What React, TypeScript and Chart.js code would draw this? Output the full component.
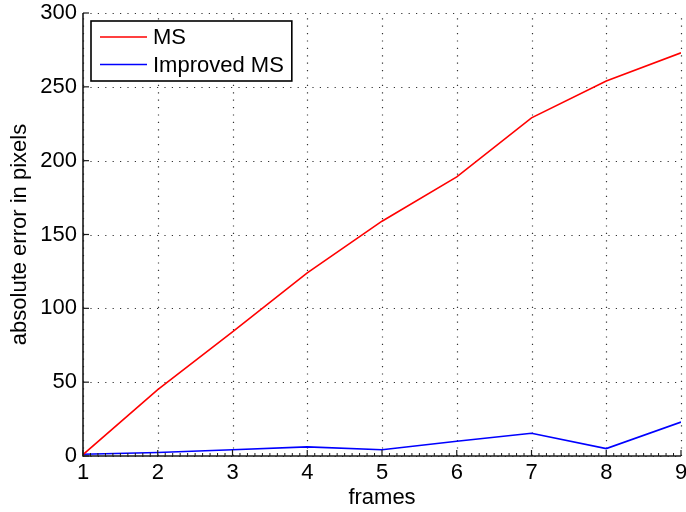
import React, { useEffect, useRef } from "react";
import { Chart, registerables } from "chart.js";

Chart.register(...registerables);

const frames = [1, 2, 3, 4, 5, 6, 7, 8, 9];
const msError = [1, 45, 84, 124, 159, 189, 229, 254, 273];
const improvedError = [1.2, 2.4, 4.2, 6.2, 4.2, 10, 15.4, 5, 23];
const xTicks = [1, 2, 3, 4, 5, 6, 7, 8, 9];
const yTicks = [0, 50, 100, 150, 200, 250, 300];
const seriesLabels = ["MS", "Improved MS"];
const seriesColors = ["#ff0000", "#0000ff"];
const xTitle = "frames";
const yTitle = "absolute error in pixels";

const FONT = "'Liberation Sans', Arial, Helvetica, sans-serif";

const matlabAxes = {
  id: "matlabAxes",
  beforeDatasetsDraw(chart: any) {
    const { ctx, chartArea: a, scales } = chart;
    const x = scales.x;
    const y = scales.y;
    ctx.save();
    ctx.strokeStyle = "#333";
    ctx.lineWidth = 1.2;
    ctx.setLineDash([1.2, 6.2]);
    for (const v of xTicks) {
      const px = Math.round(x.getPixelForValue(v)) + 0.5;
      ctx.beginPath();
      ctx.moveTo(px, a.bottom);
      ctx.lineTo(px, a.top);
      ctx.stroke();
    }
    for (const v of yTicks) {
      const py = Math.round(y.getPixelForValue(v)) + 0.5;
      ctx.beginPath();
      ctx.moveTo(a.left, py);
      ctx.lineTo(a.right, py);
      ctx.stroke();
    }
    ctx.restore();
  },
  afterDatasetsDraw(chart: any) {
    const { ctx, chartArea: a, scales } = chart;
    const x = scales.x;
    const y = scales.y;
    ctx.save();
    ctx.strokeStyle = "#1a1a1a";
    ctx.lineWidth = 1.6;
    ctx.beginPath();
    ctx.moveTo(a.left, a.top);
    ctx.lineTo(a.left, a.bottom);
    ctx.lineTo(a.right, a.bottom);
    ctx.stroke();
    ctx.lineWidth = 1.2;
    for (const v of xTicks) {
      const px = x.getPixelForValue(v);
      ctx.beginPath();
      ctx.moveTo(px, a.bottom);
      ctx.lineTo(px, a.bottom - 6);
      ctx.stroke();
    }
    for (const v of yTicks) {
      const py = y.getPixelForValue(v);
      ctx.beginPath();
      ctx.moveTo(a.left, py);
      ctx.lineTo(a.left + 6, py);
      ctx.stroke();
    }
    ctx.lineWidth = 1;
    for (let i = 0; i < xTicks.length - 1; i++) {
      for (let k = 1; k < 10; k++) {
        const v = xTicks[i] + (k * (xTicks[i + 1] - xTicks[i])) / 10;
        const px = x.getPixelForValue(v);
        ctx.beginPath();
        ctx.moveTo(px, a.bottom);
        ctx.lineTo(px, a.bottom - 3);
        ctx.stroke();
      }
    }
    ctx.restore();

    ctx.save();
    ctx.font = `22px ${FONT}`;
    const bx = a.left + 8;
    const by = a.top + 8;
    const textOff = 62;
    let maxW = 0;
    for (const l of seriesLabels) maxW = Math.max(maxW, ctx.measureText(l).width);
    const bw = textOff + maxW + 8;
    const bh = 60;
    ctx.fillStyle = "#fff";
    ctx.fillRect(bx, by, bw, bh);
    ctx.strokeStyle = "#000";
    ctx.lineWidth = 1.6;
    ctx.strokeRect(bx, by, bw, bh);
    seriesLabels.forEach((l, i) => {
      const ry = by + 16 + i * 27.5;
      ctx.strokeStyle = seriesColors[i];
      ctx.lineWidth = 1.5;
      ctx.beginPath();
      ctx.moveTo(bx + 9, ry);
      ctx.lineTo(bx + 56, ry);
      ctx.stroke();
      ctx.fillStyle = "#000";
      ctx.textBaseline = "middle";
      ctx.textAlign = "left";
      ctx.fillText(l, bx + textOff, ry + 1);
    });
    ctx.restore();
  },
};

export default function App() {
  const ref = useRef<HTMLCanvasElement | null>(null);
  useEffect(() => {
    document.body.style.margin = "0";
    const canvas = ref.current!;
    const chart = new Chart(canvas, {
      type: "line",
      data: {
        datasets: [
          {
            label: seriesLabels[0],
            data: frames.map((f, i) => ({ x: f, y: msError[i] })),
            borderColor: seriesColors[0],
            backgroundColor: seriesColors[0],
            borderWidth: 1.6,
            pointRadius: 0,
            tension: 0,
          },
          {
            label: seriesLabels[1],
            data: frames.map((f, i) => ({ x: f, y: improvedError[i] })),
            borderColor: seriesColors[1],
            backgroundColor: seriesColors[1],
            borderWidth: 1.6,
            pointRadius: 0,
            tension: 0,
          },
        ],
      },
      options: {
        responsive: false,
        animation: false,
        layout: { padding: { top: 13, right: 5, left: 0, bottom: 0 } },
        plugins: { legend: { display: false }, tooltip: { enabled: false } },
        scales: {
          x: {
            type: "linear",
            min: 1,
            max: 9,
            afterBuildTicks: (s: any) => {
              s.ticks = xTicks.map((v) => ({ value: v }));
            },
            ticks: {
              font: { family: FONT, size: 22 },
              color: "#000",
              padding: 4,
              maxRotation: 0,
            },
            grid: { display: false, drawTicks: false },
            border: { display: false },
            title: {
              display: true,
              text: xTitle,
              color: "#000",
              font: { family: FONT, size: 22 },
              padding: { top: 0, bottom: 1 },
            },
            afterFit: (s: any) => {
              s.height = 56;
              s.paddingRight = 0;
              s.paddingLeft = 0;
            },
          },
          y: {
            type: "linear",
            min: 0,
            max: 300,
            afterBuildTicks: (s: any) => {
              s.ticks = yTicks.map((v) => ({ value: v }));
            },
            ticks: {
              font: { family: FONT, size: 22 },
              color: "#000",
              padding: 6,
            },
            grid: { display: false, drawTicks: false },
            border: { display: false },
            title: {
              display: true,
              text: yTitle,
              color: "#000",
              font: { family: FONT, size: 22 },
              padding: { top: 7, bottom: 0 },
            },
            afterFit: (s: any) => {
              s.width = 83;
              s.paddingTop = 0;
              s.paddingBottom = 0;
            },
          },
        },
      },
      plugins: [matlabAxes],
    } as any);
    return () => chart.destroy();
  }, []);
  return (
    <canvas
      ref={ref}
      width={686}
      height={512}
      style={{ display: "block", position: "absolute", left: 0, top: 0 }}
    />
  );
}
